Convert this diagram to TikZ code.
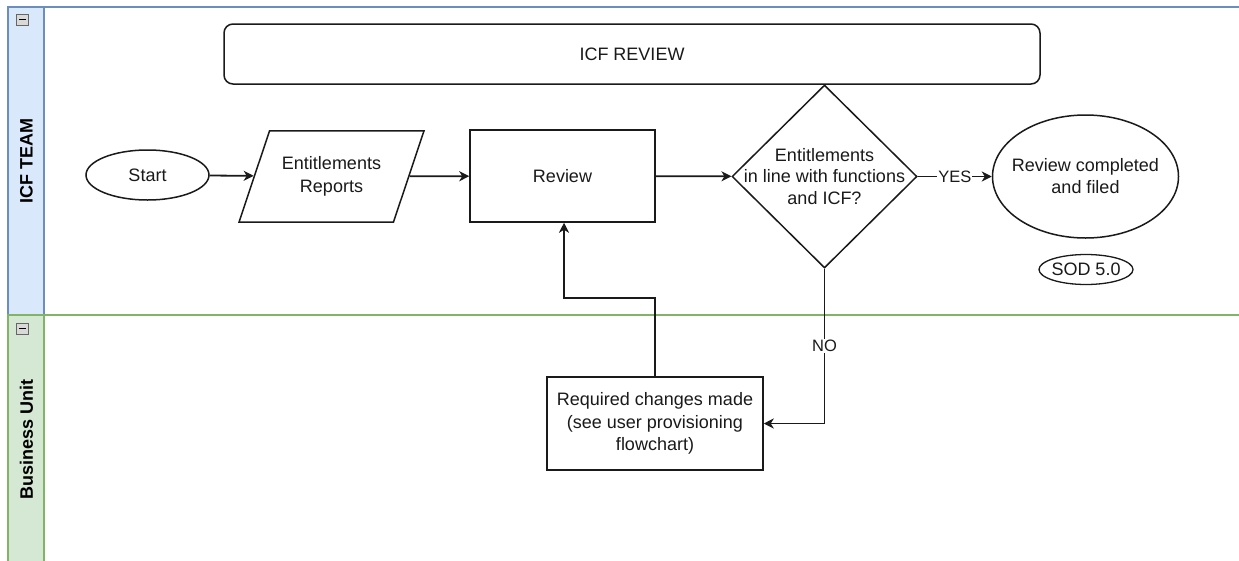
\documentclass[tikz,border=0pt]{standalone}
\usepackage{fontspec}
\setmainfont{Liberation Sans}
\usetikzlibrary{shapes.geometric,arrows.meta,calc}

\definecolor{laneblue}{HTML}{DAE8FC}
\definecolor{laneblueline}{HTML}{6C8EBF}
\definecolor{lanegreen}{HTML}{D5E8D4}
\definecolor{lanegreenline}{HTML}{82B366}
\definecolor{ink}{HTML}{1A1A1A}

\begin{document}
\begin{tikzpicture}[x=1pt,y=-1pt,
  every node/.style={font=\fontsize{18}{22.5}\selectfont, align=center, text=ink},
  shapeline/.style={draw=ink, line width=1.5pt, inner sep=0pt},
  txt/.style={inner sep=0pt},
  edgelabel/.style={font=\fontsize{16.5}{20}\selectfont, fill=white, inner sep=1pt},
  flow/.style={draw=ink, line width=1.8pt, -{Stealth[length=10pt, width=10pt, inset=3pt]}},
  lanehead/.style={rotate=90, font=\bfseries\fontsize{18}{22}\selectfont, text=black},
  collapse/.style={fill=gray!30, draw=gray!80!black, line width=0.8pt}
]

\useasboundingbox (0,0) rectangle (1239,560);
\clip (0,0) rectangle (1239,560);

% ---- swimlane: ICF TEAM ----
\draw[laneblueline, line width=1.3pt, fill=white] (8,7) rectangle (1260,315);
\filldraw[fill=laneblue, draw=laneblueline, line width=1.3pt] (8,7) rectangle (44,315);
\node[lanehead] (icfteam) at (26.5,161) {ICF TEAM};
\draw[collapse] (16.5,14) rectangle (28,25.5);
\draw[black, line width=1pt] (19,19.75) -- (25.5,19.75);

% ---- swimlane: Business Unit ----
\draw[lanegreenline, line width=1.3pt, fill=white] (8,315) rectangle (1260,580);
\filldraw[fill=lanegreen, draw=lanegreenline, line width=1.3pt] (8,315) rectangle (44,580);
\node[lanehead] (bu) at (26.5,439) {Business Unit};
\draw[collapse] (16.5,323) rectangle (28,334.5);
\draw[black, line width=1pt] (19,328.75) -- (25.5,328.75);

% ---- title bar ----
\node[shapeline, rounded corners=9pt, minimum width=816, minimum height=60] (title) at (632,54) {ICF REVIEW};

% ---- process nodes ----
\node[shapeline, ellipse, minimum width=123, minimum height=50] (start) at (147.5,175) {Start};
\node[shapeline, trapezium, trapezium left angle=71.5, trapezium right angle=108.5,
      trapezium stretches body=true, inner xsep=10pt, inner ysep=26pt,
      minimum width=185] (rep) at (331.5,176.5) {Entitlements\\Reports};
\node[shapeline, minimum width=185, minimum height=92] (review) at (562.5,176) {Review};
\node[shapeline, diamond, minimum width=185, minimum height=183] (dec) at (824.5,176.5) {};
\node[txt, font=\fontsize{18}{21.5}\selectfont] (dectext) at (824.5,176.5) {Entitlements\\in line with functions\\and ICF?};
\node[shapeline, ellipse, minimum width=186, minimum height=123] (done) at (1085.5,176.5) {};
\node[txt] (donetext) at (1085.5,176) {Review completed\\and filed};
\node[shapeline, ellipse, line width=1.3pt, minimum width=94, minimum height=30] (sod) at (1086,269.5) {};
\node[txt] (sodtext) at (1086,269.5) {SOD 5.0};
\node[shapeline, minimum width=216, minimum height=93] (chg) at (655,423.5) {};
\node[txt] (chgtext) at (655,423.5) {Required changes made\\(see user provisioning\\flowchart)};

% ---- connectors ----
\draw[flow] (start) -- (rep);
\draw[flow] (rep) -- (review);
\draw[flow] (review) -- (dec);
\draw[flow] (dec) -- node[edgelabel] (yes) {YES} (done);
\draw[flow] (dec.south) |- node[edgelabel, pos=0.25] (no) {NO} (chg.east);
\coordinate (revin) at ($(review.south)+(1.5,0)$);
\coordinate (bend) at (655,298);
\draw[flow] (chg.north) -- (bend) -| (revin);

\end{tikzpicture}
\end{document}
